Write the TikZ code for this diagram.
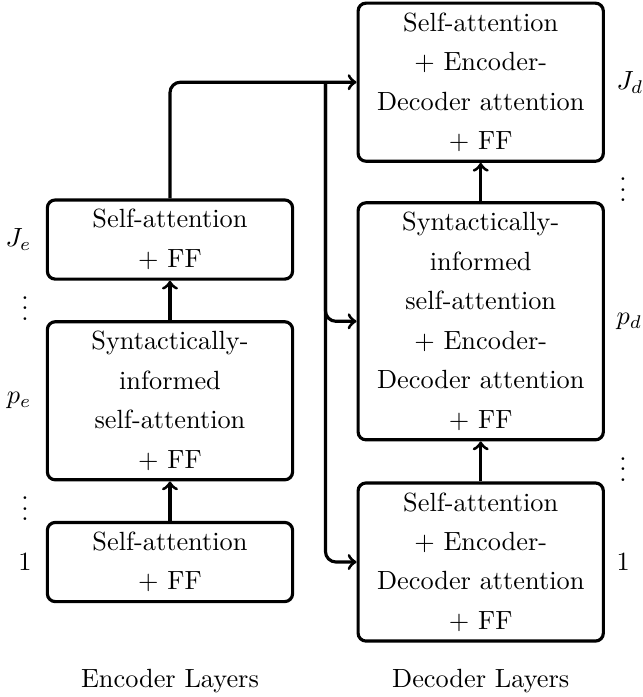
\documentclass[tikz,border=0pt]{standalone}
\usepackage{amssymb}
\usepackage{tikz}
\usetikzlibrary{positioning, calc}
\tikzset{every picture/.style={line width=1.2pt}}

\begin{document}
\begin{tikzpicture}[node distance=15pt and 23.7pt,
        layer/.style={draw, rounded corners=3pt, text width=86pt, align=center,
            inner xsep=3.6pt, inner ysep=3.6pt, font=\linespread{1.25}\selectfont},
        lbl/.style={inner sep=3.33pt}]
        % encoder stack
        \node[layer] (enc1) {Self-attention\\+ FF};
        \node[layer,above=of enc1] (enc2) {Syntactically-\\informed\\self-attention\\+ FF};
        \node[layer,above=of enc2] (enc3) {Self-attention\\+ FF};
        % decoder stack
        \node[layer,right=of enc1] (dec1) {Self-attention\\+ Encoder-\\Decoder attention\\+ FF};
        \node[layer,above=15.2pt of dec1] (dec2) {Syntactically-\\informed\\self-attention\\+ Encoder-\\Decoder attention\\+ FF};
        \node[layer,above=14.6pt of dec2] (dec3) {Self-attention\\+ Encoder-\\Decoder attention\\+ FF};

        % layer numbers
        \node[lbl,left=1.5pt of enc1] (e1) {$1$};
        \node[lbl,left=1.5pt of enc2] (pe) {$p_e$};
        \node[lbl,left=1.5pt of enc3] (je) {$J_e$};
        \node[lbl,right=0.5pt of dec1] (d1) {$1$};
        \node[lbl,right=0.5pt of dec2] (pd) {$p_d$};
        \node[lbl,right=0.5pt of dec3] (jd) {$J_d$};
        \coordinate (eg1) at ($(enc1.north)!.5!(enc2.south)$);
        \coordinate (eg2) at ($(enc2.north)!.5!(enc3.south)$);
        \coordinate (dg1) at ($(dec1.north)!.5!(dec2.south)$);
        \coordinate (dg2) at ($(dec2.north)!.5!(dec3.south)$);
        \node[inner sep=0pt] (edots1) at (eg1 -| e1) {$\vdots$};
        \node[inner sep=0pt] (edots2) at (eg2 -| e1) {$\vdots$};
        \node[inner sep=0pt] (ddots1) at (dg1 -| d1) {$\vdots$};
        \node[inner sep=0pt] (ddots2) at (dg2 -| d1) {$\vdots$};

        \node[below=21pt of enc1] (enctxt) {Encoder Layers};
        \node (dectxt) at (enctxt -| dec1) {Decoder Layers};

        \coordinate[left=11.8pt of dec3.west] (split);

        \draw[->]
            (enc1) edge (enc2)
            (enc2) edge (enc3)
            (dec1) edge (dec2)
            (dec2) edge (dec3)
            ;
        \draw[->,rounded corners=4pt] (enc3) |- (dec3);
        \draw[->,rounded corners=4pt] (split) |- (dec2);
        \draw[->,rounded corners=4pt] (split) |- (dec1);

        \pgfresetboundingbox
        \useasboundingbox ([shift={(-64.6pt,213.6pt)}]enc1.center) rectangle ([shift={(179.4pt,-51.3pt)}]enc1.center);
    \end{tikzpicture}
\end{document}
